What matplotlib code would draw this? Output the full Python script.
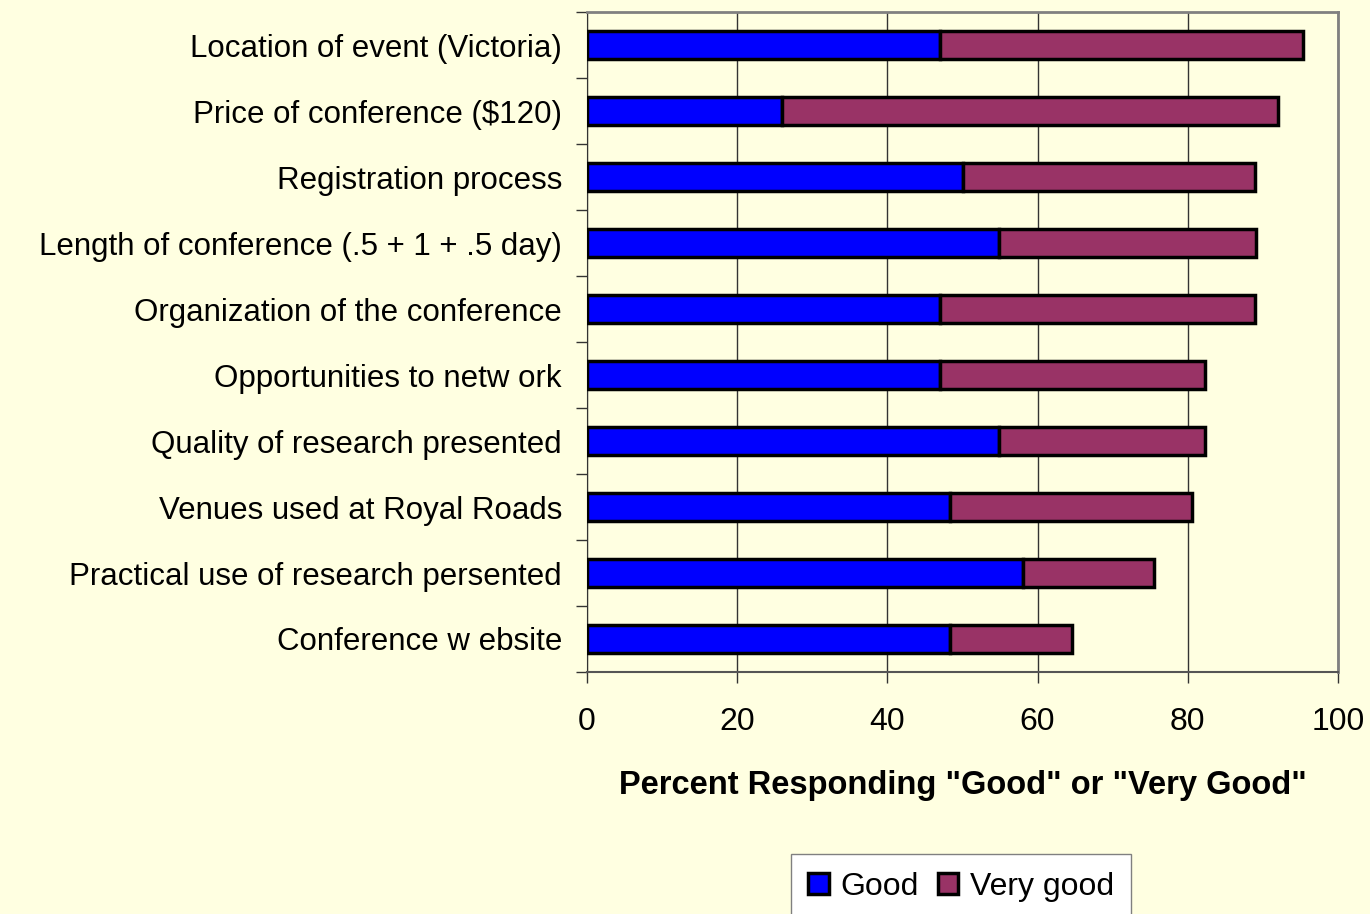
import numpy as np
import matplotlib.pyplot as plt

# survey items, top to bottom as shown
items = [
    "Location of event (Victoria)",
    "Price of conference ($120)",
    "Registration process",
    "Length of conference (.5 + 1 + .5 day)",
    "Organization of the conference",
    "Opportunities to netw ork",
    "Quality of research presented",
    "Venues used at Royal Roads",
    "Practical use of research persented",
    "Conference w ebsite",
]
good = [47.0, 25.9, 50.0, 54.8, 47.0, 47.0, 54.8, 48.4, 58.1, 48.4]
very_good = [48.4, 66.1, 39.0, 34.3, 42.0, 35.3, 27.5, 32.2, 17.4, 16.2]
xticks = [0, 20, 40, 60, 80, 100]

bg = "#FFFFE1"
blue = "#0000FF"
maroon = "#993366"

plt.rcParams['font.family'] = ['Liberation Sans', 'DejaVu Sans']

fig = plt.figure(figsize=(13.7, 9.14), dpi=100, facecolor=bg)
ax = fig.add_axes([587 / 1370, 1 - 672 / 914, (1338 - 587) / 1370, (672 - 12) / 914])
ax.set_facecolor(bg)

y = np.arange(len(items))
ax.barh(y, good, height=0.41, color=blue, edgecolor="black", linewidth=2.5,
        label="Good", zorder=3)
ax.barh(y, very_good, left=good, height=0.41, color=maroon, edgecolor="black",
        linewidth=2.5, label="Very good", zorder=3)

ax.set_xlim(0, 100)
ax.set_ylim(len(items) - 0.5, -0.5)
ax.set_xticks(xticks)
ax.set_xticklabels([str(v) for v in xticks], fontsize=23)
ax.tick_params(axis="x", direction="out", length=8, width=1, pad=17, colors="#333333",
               labelcolor="black")

# labels centred on bars, tick marks between categories
ax.set_yticks(y)
ax.set_yticklabels(items, fontsize=22.5)
ax.tick_params(axis="y", length=0, pad=18)
ax.set_yticks(np.arange(-0.5, len(items) + 0.5, 1), minor=True)
ax.tick_params(axis="y", which="minor", direction="out", length=8, width=1, colors="#333333")

ax.grid(axis="x", color="#333333", linewidth=1, zorder=0)
for side in ["top", "right"]:
    ax.spines[side].set_color("#808080")
    ax.spines[side].set_linewidth(2)
ax.spines["left"].set_color("#333333")
ax.spines["bottom"].set_color("#555555")
ax.spines["bottom"].set_linewidth(1.5)

ax.set_xlabel('Percent Responding "Good" or "Very Good"', fontsize=23.5,
              fontweight="bold", labelpad=24)

fig.legend(loc="upper center", bbox_to_anchor=(961 / 1370, 1 - 854 / 914), ncol=2,
           fontsize=23, frameon=True, fancybox=False, edgecolor="#808080",
           facecolor="white", framealpha=1, handlelength=0.65, handleheight=0.65,
           handletextpad=0.35, columnspacing=0.6, borderpad=0.55, borderaxespad=0)

fig.savefig("out.png", dpi=100, facecolor=bg)
